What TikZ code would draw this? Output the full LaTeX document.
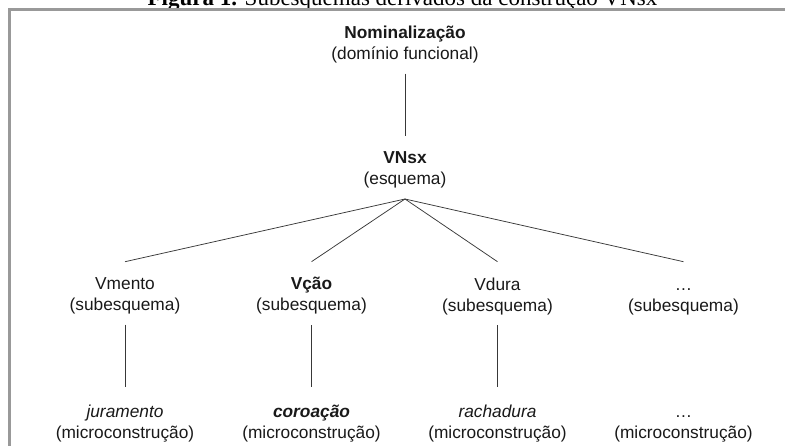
\documentclass[tikz,border=0pt]{standalone}
\usepackage{fontspec}
\setmainfont{Liberation Serif}
\newfontfamily\diafont{Liberation Sans}
\begin{document}
\begin{tikzpicture}[x=1pt,y=-1pt,
  lbl/.style={font=\diafont\fontsize{17.3}{21}\selectfont, align=center,
    text=black!90, inner sep=0pt, outer sep=0pt, anchor=north},
  conn/.style={draw=black!78, line width=0.75pt}]
\useasboundingbox (0,0) rectangle (785,445);
% title (cut off by the top edge)
\node[anchor=base, font=\fontsize{23}{27}\selectfont, inner sep=0pt, text=black] (title)
  at (402.5,5) {\textbf{Figura 1.} Subesquemas derivados da construção VNsx};
% frame
\draw[draw=black!40, line width=3pt] (9.5,9.5) rectangle (900,600);
% nodes
\node[lbl] (nom) at (405,25.5) {\textbf{Nominalização}\\(domínio funcional)};
\node[lbl] (vnsx) at (405,152) {\textbf{VNsx}\\(esquema)};
\node[lbl] (vmento) at (125,277.5) {Vmento\\(subesquema)};
\node[lbl] (vcao) at (311.5,277.5) {\textbf{Vção}\\(subesquema)};
\node[lbl] (vdura) at (497.5,277.5) {Vdura\\(subesquema)};
\node[lbl] (vetc) at (683.5,277.5) {\vphantom{Vd}…\\(subesquema)};
\node[lbl] (jur) at (125,405) {\textit{juramento}\\(microconstrução)};
\node[lbl] (cor) at (311.5,405) {\textbf{\textit{coroação}}\\(microconstrução)};
\node[lbl] (rach) at (497.5,405) {\textit{rachadura}\\(microconstrução)};
\node[lbl] (metc) at (683.5,405) {\vphantom{Vd}…\\(microconstrução)};
% connectors
\draw[conn] ([yshift=-11pt]nom.south) -- ([yshift=16pt]vnsx.north);
\foreach \n in {vmento,vcao,vdura,vetc}
  \draw[conn] ([yshift=-10.5pt]vnsx.south) -- ([yshift=15.8pt]\n.north);
\draw[conn] ([yshift=-10.7pt]vmento.south) -- ([yshift=18pt]jur.north);
\draw[conn] ([yshift=-10.7pt]vcao.south) -- ([yshift=18pt]cor.north);
\draw[conn] ([yshift=-10.7pt]vdura.south) -- ([yshift=18pt]rach.north);
\end{tikzpicture}
\end{document}
